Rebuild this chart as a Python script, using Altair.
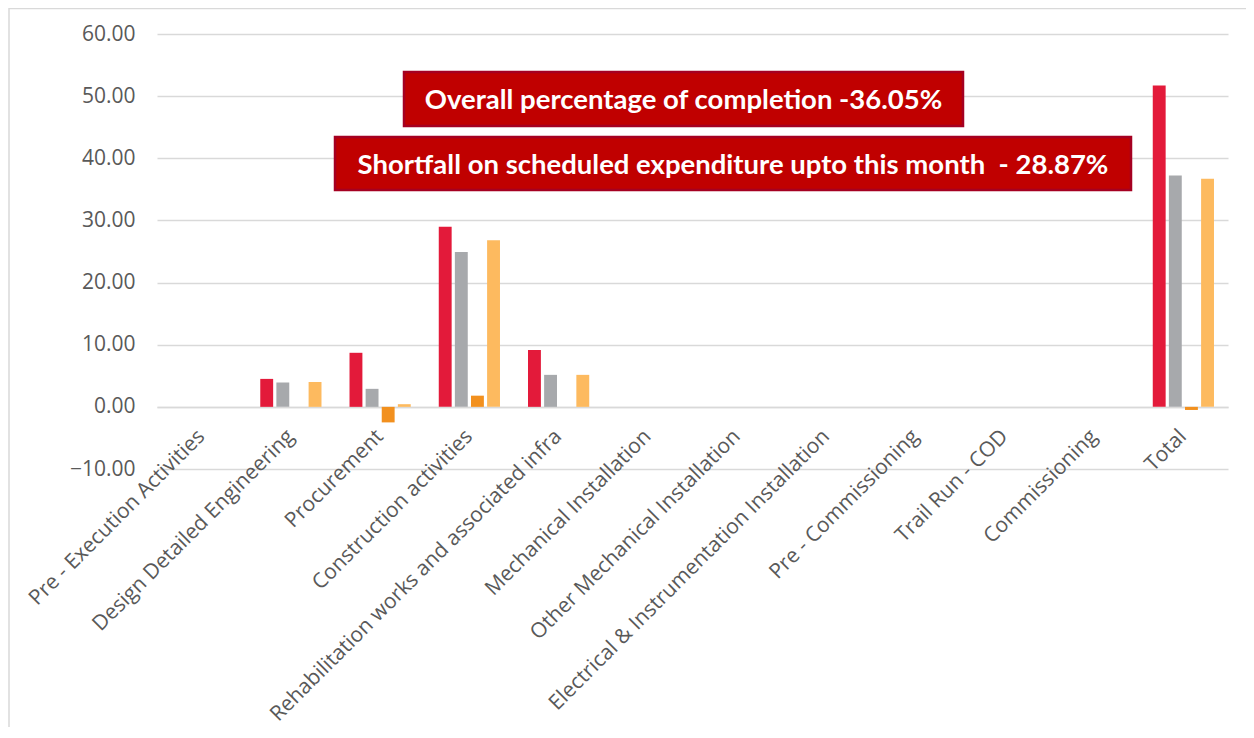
import altair as alt
import pandas as pd

categories = [
    "Pre - Execution Activities",
    "Design Detailed Engineering",
    "Procurement",
    "Construction activities",
    "Rehabilitation works and associated infra",
    "Mechanical Installation",
    "Other Mechanical Installation",
    "Electrical & Instrumentation Installation",
    "Pre - Commissioning",
    "Trail Run - COD",
    "Commissioning",
    "Total",
]
series = ["Scheduled", "Achieved", "Variance", "Cumulative"]
colors = ["#E31A3A", "#A7A9AC", "#F2901E", "#FDBA5F"]

scheduled = [0, 4.5, 8.7, 29.0, 9.15, 0, 0, 0, 0, 0, 0, 51.7]
achieved = [0, 3.9, 2.9, 24.9, 5.15, 0, 0, 0, 0, 0, 0, 37.25]
variance = [0, 0, -2.5, 1.8, 0, 0, 0, 0, 0, 0, 0, -0.5]
cumulative = [0, 4.0, 0.43, 26.8, 5.15, 0, 0, 0, 0, 0, 0, 36.7]

y_ticks = [-10, 0, 10, 20, 30, 40, 50, 60]

note1 = "Overall percentage of completion -36.05%"
note2 = "Shortfall on scheduled expenditure upto this month\u00a0 - 28.87%"

rows = []
for name, vals in zip(series, [scheduled, achieved, variance, cumulative]):
    for c, v in zip(categories, vals):
        rows.append({"Category": c, "Series": name, "Value": v})
df = pd.DataFrame(rows)

W, H = 1071, 435

frame = alt.Chart(pd.DataFrame({"k": [1]})).mark_rect(
    fillOpacity=0, stroke="#D9D9D9", strokeWidth=1.5
).encode(
    x=alt.value(-148), x2=alt.value(W + 60),
    y=alt.value(-25.5), y2=alt.value(720),
)

bars = alt.Chart(df).mark_bar().encode(
    x=alt.X(
        "Category:N", sort=categories,
        scale=alt.Scale(paddingInner=0.314, paddingOuter=0.157),
        axis=alt.Axis(
            title=None, labelAngle=315, labelAlign="right", labelBaseline="middle",
            labelFont="Open Sans", labelFontSize=21, labelColor="#595959",
            labelPadding=26, offset=-62, domainColor="#D9D9D9", domainWidth=1.5,
            ticks=False, labelLimit=600, labelOverlap=False,
        ),
    ),
    xOffset=alt.XOffset("Series:N", sort=series,
                        scale=alt.Scale(paddingInner=0.2, paddingOuter=0)),
    y=alt.Y(
        "Value:Q", scale=alt.Scale(domain=[-10, 60], nice=False),
        axis=alt.Axis(
            title=None, values=y_ticks, format=".2f", grid=True,
            gridColor="#D9D9D9", gridWidth=1.3, domain=False, ticks=False,
            labelFont="Open Sans", labelFontSize=21, labelColor="#595959",
            labelPadding=22,
        ),
    ),
    color=alt.Color("Series:N", scale=alt.Scale(domain=series, range=colors), legend=None),
)

def note(text, x1, x2, y1, y2, size):
    d = pd.DataFrame({"t": [text]})
    box = alt.Chart(d).mark_rect(fill="#C00000", stroke="#A50021", strokeWidth=2.5).encode(
        x=alt.value(x1), x2=alt.value(x2), y=alt.value(y1), y2=alt.value(y2)
    )
    txt = alt.Chart(d).mark_text(
        font="Lato", fontWeight="bold", fontSize=size, color="white",
        align="center", baseline="middle",
    ).encode(
        x=alt.value((x1 + x2) / 2), y=alt.value((y1 + y2) / 2 + 2), text="t:N"
    )
    return box + txt

chart = alt.layer(
    frame, bars,
    note(note1, 247, 806, 38, 92, 27.5),
    note(note2, 178, 974, 103, 156, 27.5),
).properties(
    width=W, height=H,
    autosize=alt.AutoSizeParams(type="none"),
    padding={"left": 149, "top": 26, "right": 18, "bottom": 258},
).configure_view(strokeWidth=0)

chart.save("out.html", embed_options={"renderer": "svg", "actions": False})
